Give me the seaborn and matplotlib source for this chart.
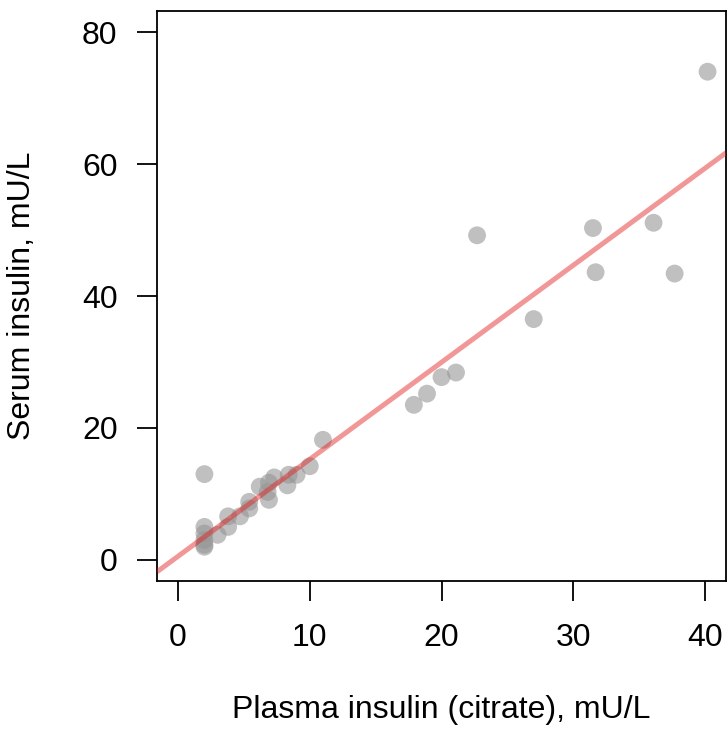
import numpy as np
import pandas as pd
import seaborn as sns
import matplotlib
matplotlib.use("Agg")
import matplotlib.pyplot as plt

# values
plasma = [2.0, 2.0, 2.0, 2.0, 2.0, 2.0, 3.0, 3.8, 3.8, 4.7,
          5.4, 5.4, 6.2, 6.8, 6.9, 6.9, 7.3, 8.3, 8.4, 9.0,
          10.0, 11.0, 17.9, 18.9, 20.0, 21.1, 22.7, 27.0, 31.5, 31.7,
          36.1, 37.7, 40.2]
serum = [13.0, 5.0, 4.0, 3.0, 2.3, 2.0, 3.8, 5.0, 6.6, 6.6,
         7.8, 8.8, 11.1, 10.3, 11.7, 9.1, 12.5, 11.3, 12.9, 12.9,
         14.2, 18.2, 23.5, 25.2, 27.7, 28.4, 49.2, 36.5, 50.3, 43.6,
         51.1, 43.4, 74.0]
fit_intercept = 0.55
fit_slope = 1.47

xticks = [0, 10, 20, 30, 40]
yticks = [0, 20, 40, 60, 80]

df = pd.DataFrame({"plasma": plasma, "serum": serum})

sns.set_style("white")
plt.rcParams["font.family"] = ["Liberation Sans", "DejaVu Sans"]
plt.rcParams["text.color"] = "black"
plt.rcParams["axes.labelcolor"] = "black"

fig = plt.figure(figsize=(7.27, 7.33), dpi=100)
ax = fig.add_axes([157 / 727, 1 - 581 / 733, (726 - 157) / 727, (581 - 11) / 733])

sns.scatterplot(data=df, x="plasma", y="serum", ax=ax, s=165,
                color="#969696", alpha=0.6, edgecolor="none", zorder=2)
ax.axline((0, fit_intercept), slope=fit_slope, color="#e41a1c",
          alpha=0.45, lw=3.6, zorder=3, solid_capstyle="butt")

ax.set_xlim(-1.6, 41.6)
ax.set_ylim(-3.2, 83.2)
ax.set_xticks(xticks)
ax.set_yticks(yticks)

for side in ["top", "right", "bottom", "left"]:
    ax.spines[side].set_visible(True)
    ax.spines[side].set_color("black")
    ax.spines[side].set_linewidth(1.3)

ax.tick_params(axis="both", which="major", direction="out", length=14.4,
               width=1.3, color="black", labelsize=23,
               bottom=True, left=True, labelcolor="black")
ax.tick_params(axis="x", pad=16)
ax.tick_params(axis="y", pad=14)

ax.set_xlabel("Plasma insulin (citrate), mU/L", fontsize=23, labelpad=30)
ax.set_ylabel("Serum insulin, mU/L", fontsize=23, labelpad=32)

fig.savefig("out.png", dpi=100)
